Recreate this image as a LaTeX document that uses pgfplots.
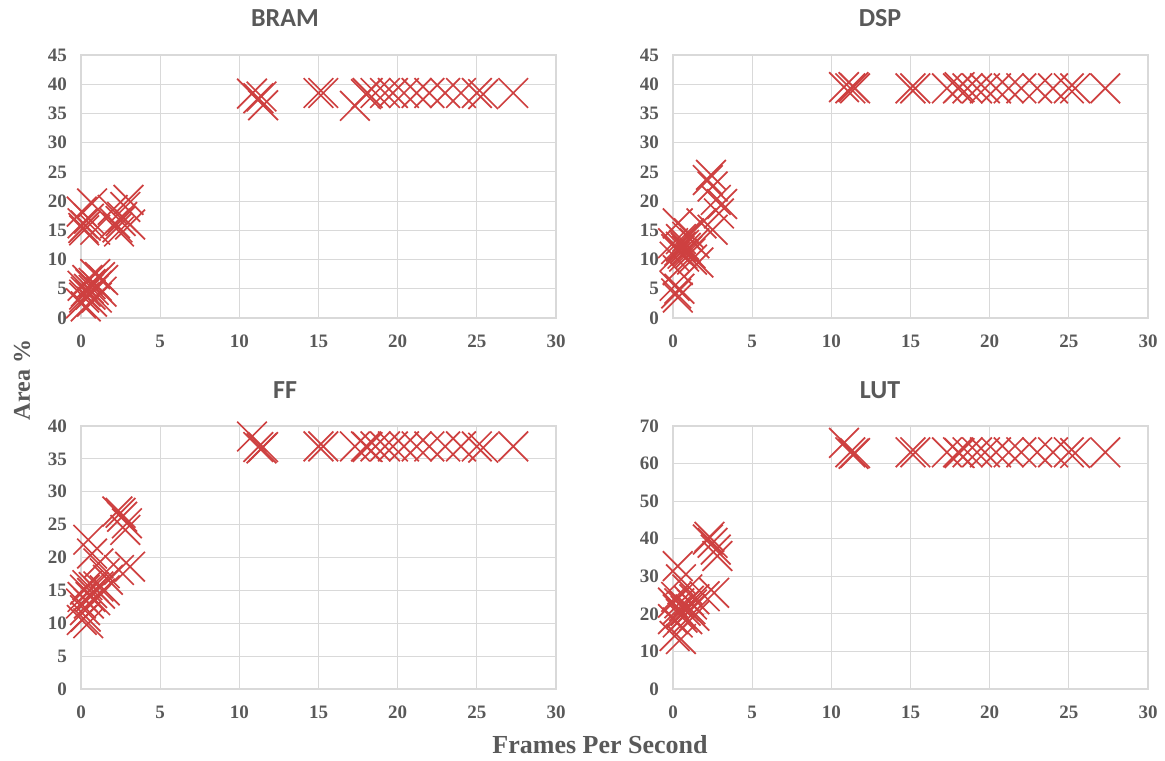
\documentclass[border=0pt]{standalone}
\usepackage{fontspec}
\setmainfont{Liberation Serif}
\newfontfamily\titlefont{Carlito}
\usepackage{pgfplots}
\usepackage{pgfplotstable}
\pgfplotsset{compat=1.18}

\definecolor{xred}{RGB}{206,64,64}
\definecolor{txtgray}{RGB}{89,89,89}
\definecolor{gridgray}{RGB}{217,217,217}

% high-fps designs share the same frame rates in every panel
\pgfplotstableread{
fps   bram  dsp   ff    lut
10.8  38.4  39.5  38.4  65.5
11.2  37.6  39.3  36.8  63.0
11.5  36.4  39.3  36.8  62.8
11.4  37.9  39.5  36.6  62.6
15.0  38.5  39.3  36.9  63.0
15.3  38.5  39.3  36.9  63.0
17.3  36.3  39.3  36.9  63.0
18.0  38.3  39.3  36.9  63.0
18.1  38.5  39.5  36.8  62.8
18.6  38.5  39.3  36.9  63.0
19.2  38.5  39.3  36.9  63.0
19.7  38.5  39.3  36.9  63.0
20.4  38.5  39.3  36.9  63.0
21.2  38.5  39.3  36.9  63.0
22.0  38.5  39.3  36.9  63.0
23.0  38.5  39.3  36.9  63.0
24.0  38.5  39.3  36.9  63.0
25.0  38.5  39.3  36.9  63.0
25.4  38.3  39.3  36.7  62.8
27.3  38.5  39.3  36.9  63.0
}\hightab

\pgfplotstableread{
fps  val
0.15 15.4
0.3  15.8
0.1  16.2
0.2  15.0
0.9  15.1
0.05 18.2
0.7  19.6
0.5  17.0
2.15 16.2
2.3  15.5
2.6  17.3
2.5  16.6
2.8  19.0
3.0  20.2
2.4  14.8
3.1  16.0
2.0  18.5
0.0  2.5
0.2  3.5
0.3  4.5
0.5  5.0
0.6  4.0
0.8  6.0
1.0  5.5
1.2  7.0
1.4  6.5
0.4  6.5
1.0  3.5
0.7  2.8
0.1  5.5
1.3  4.5
0.9  7.5
0.3  2.0
0.6  5.8
0.8  4.8
0.2  4.0
}\bramlow

\pgfplotstableread{
fps  val
2.2  23.6
2.5  22.5
2.4  24.5
2.7  20.2
2.9  17.9
3.1  19.5
2.5  15.1
1.8  16.2
0.9  13.9
0.3  16.2
0.5  12.2
0.1  10.5
0.7  10.5
0.0  12.8
0.3  8.2
0.2  4.2
0.4  5.0
1.1  11.1
1.35 12.8
1.6  9.5
0.5  13.5
0.8  12.0
0.4  11.5
1.0  14.5
0.1  5.5
0.3  3.5
1.2  10.0
0.6  11.0
0.7  12.5
0.2  11.8
0.9  11.5
}\dsplow

\pgfplotstableread{
fps  val
2.3  27.0
2.6  26.2
2.9  25.2
2.8  24.2
2.5  26.8
3.1  18.6
2.4  18.1
0.46 22.7
0.7  20.6
1.1  19.1
1.5  17.6
0.25 15.1
0.7  14.6
1.1  15.6
0.0  13.0
0.25 12.0
0.05 10.5
0.46 10.0
0.9  13.5
1.5  15.0
0.1  14.0
1.7  16.6
0.5  13.0
1.2  14.5
0.8  15.5
0.3  11.0
0.6  14.0
0.4  15.8
}\fflow

\pgfplotstableread{
fps  val
2.2  39.8
2.5  38.9
2.3  40.5
2.7  37.1
2.8  35.4
2.6  25.6
2.0  24.7
0.3  32.7
0.5  29.2
0.9  26.5
1.35 23.9
0.0  23.0
0.3  21.2
0.7  22.1
1.1  21.2
0.0  18.6
0.3  17.7
0.1  14.1
0.5  13.3
1.35 19.5
0.9  18.6
0.5  20.0
1.0  23.5
0.2  24.5
0.6  19.0
1.2  22.5
0.8  20.8
0.4  22.8
}\lutlow

\pgfplotsset{
  panel/.style={
    scale only axis, width=237.5pt, height=131.5pt,
    anchor=north west, clip=false,
    xmin=0, xmax=30, xtick distance=5, ymin=0,
    grid=major, major grid style={draw=gridgray, line width=0.6pt},
    axis line style={draw=gridgray, line width=0.6pt},
    major tick length=0pt,
    tick label style={font=\bfseries\fontsize{9.5}{10}\selectfont, text=txtgray},
    /pgf/number format/assume math mode=true,
    yticklabel style={xshift=-3.5pt},
    xticklabel style={yshift=-5pt},
  },
  crosses/.style={only marks, mark=x, mark size=10.5pt,
    mark options={draw=xred, line width=0.85pt}, draw=xred},
}

\begin{document}
\begin{tikzpicture}
\useasboundingbox (0,0) rectangle (582.5pt,-380pt);

\begin{axis}[panel, at={(40.5pt,-27.5pt)}, ymax=45, ytick distance=5]
\addplot[crosses] table[x=fps, y=val] {\bramlow};
\addplot[crosses] table[x=fps, y=bram] {\hightab};
\end{axis}

\begin{axis}[panel, at={(336.5pt,-27.5pt)}, ymax=45, ytick distance=5]
\addplot[crosses] table[x=fps, y=val] {\dsplow};
\addplot[crosses] table[x=fps, y=dsp] {\hightab};
\end{axis}

\begin{axis}[panel, at={(40.5pt,-213pt)}, ymax=40, ytick distance=5]
\addplot[crosses] table[x=fps, y=val] {\fflow};
\addplot[crosses] table[x=fps, y=ff] {\hightab};
\end{axis}

\begin{axis}[panel, at={(336.5pt,-213pt)}, ymax=70, ytick distance=10]
\addplot[crosses] table[x=fps, y=val] {\lutlow};
\addplot[crosses] table[x=fps, y=lut] {\hightab};
\end{axis}

\node[text=txtgray, font=\titlefont\bfseries\fontsize{13}{15}\selectfont] at (142.5pt,-9pt) {BRAM};
\node[text=txtgray, font=\titlefont\bfseries\fontsize{13}{15}\selectfont] at (440pt,-9pt) {DSP};
\node[text=txtgray, font=\titlefont\bfseries\fontsize{13}{15}\selectfont] at (142.5pt,-195pt) {FF};
\node[text=txtgray, font=\titlefont\bfseries\fontsize{13}{15}\selectfont] at (440pt,-195pt) {LUT};

\node[text=txtgray, font=\bfseries\fontsize{12}{14}\selectfont, rotate=90] at (11pt,-190pt) {Area \%};
\node[text=txtgray, font=\bfseries\fontsize{13}{15}\selectfont] at (300pt,-372.5pt) {Frames Per Second};
\end{tikzpicture}
\end{document}
